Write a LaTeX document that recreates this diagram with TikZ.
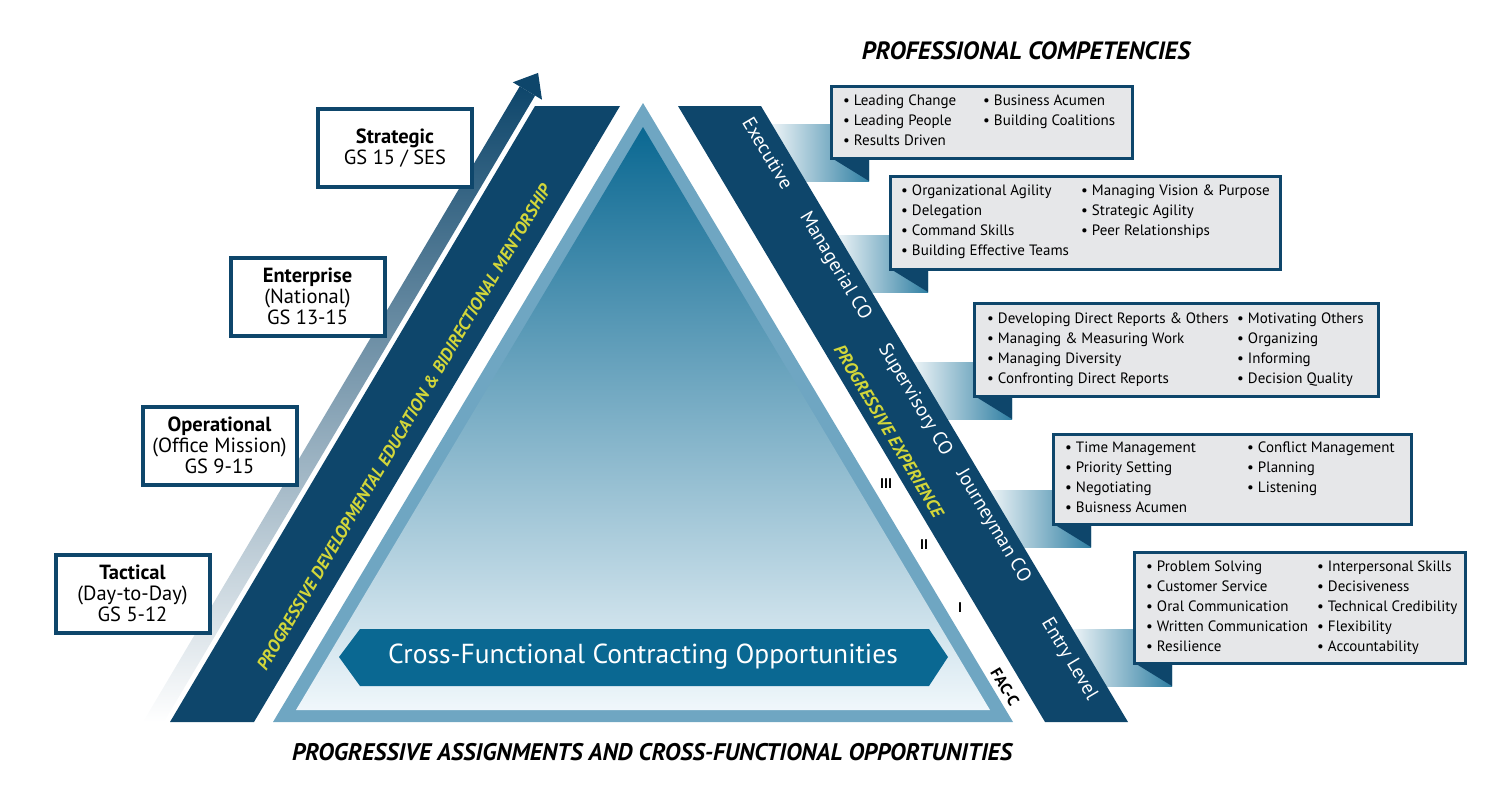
\documentclass[tikz,border=0pt]{standalone}
\usepackage{fontspec}
\setmainfont{PT Sans}
\usetikzlibrary{positioning}

\definecolor{navy}{RGB}{14,70,107}
\definecolor{ringblue}{RGB}{111,166,194}
\definecolor{deepteal}{RGB}{10,104,146}
\definecolor{paleblue}{RGB}{240,247,251}
\definecolor{boxgrey}{RGB}{230,231,233}
\definecolor{mentor}{RGB}{210,214,58}

\tikzset{
  levelbox/.style={draw=navy, line width=4pt, fill=white, align=center,
    minimum width=154pt, minimum height=78pt, inner sep=0pt,
    font=\fontsize{20.5}{21}\selectfont},
  compbox/.style={draw=navy, line width=2.5pt, fill=boxgrey, anchor=north west, inner sep=0pt},
  complist/.style={align=left, inner sep=0pt, font=\fontsize{15}{20}\selectfont},
  bandlabel/.style={text=white, rotate=-59.2, font=\fontsize{19.5}{21}\selectfont},
  yellowlabel/.style={text=mentor, font=\fontsize{17.5}{20}\bfseries\itshape\selectfont},
  roman/.style={font=\fontsize{14}{16}\bfseries\selectfont},
  ribbon/.style={left color=white, right color=deepteal!85},
  fold/.style={fill=navy},
  heading/.style={font=\fontsize{25}{28}\bfseries\itshape\selectfont}
}

\begin{document}
\begin{tikzpicture}[x=1pt, y=-1pt]
    \useasboundingbox (0,0) rectangle (1500,785);

    % Arrow
    \shade[top color=navy, bottom color=white] (143,722) -- (164,722) -- (535.1,95.6) -- (519.7,86.4) -- cycle;
    \fill[navy] (512.8,82.3) -- (538.1,72.9) -- (542.0,99.7) -- cycle;

    % Left band
    \fill[navy] (535,106) -- (620,106) -- (254,722) -- (170,722) -- cycle;

    % Triangle
    \fill[ringblue] (643,103) -- (273,722) -- (1013,722) -- cycle;
    \shade[top color=deepteal, bottom color=paleblue] (643,127) -- (296,710) -- (990,710) -- cycle;

    % Banner
    \fill[deepteal] (339,657) -- (360,629) -- (929,629) -- (948,657) -- (929,686) -- (360,686) -- cycle;
    \node[text=white, font=\fontsize{27.5}{30}\selectfont] (cross) at (643,657) {Cross-Functional Contracting Opportunities};

    % Ribbons
    \shade[ribbon] (762,124) rectangle (869,181);
    \fill[fold] (830,157) -- (869,157) -- (869,181) -- cycle;
    \shade[ribbon] (828,235) rectangle (928,292);
    \fill[fold] (889,268) -- (928,268) -- (928,292) -- cycle;
    \shade[ribbon] (904,362) rectangle (1012,419);
    \fill[fold] (973,395) -- (1012,395) -- (1012,419) -- cycle;
    \shade[ribbon] (980,490) rectangle (1091,547);
    \fill[fold] (1052,523) -- (1091,523) -- (1091,547) -- cycle;
    \shade[ribbon] (1063,629) rectangle (1172,686);
    \fill[fold] (1133,662) -- (1172,662) -- (1172,686) -- cycle;

    % Right band
    \fill[navy] (678,106) -- (761,106) -- (1128,722) -- (1045,722) -- cycle;

    % Band labels
    \node[bandlabel] (execlabel) at (768,153) {Executive};
    \node[bandlabel] (managerial) at (835,266) {Managerial CO};
    \node[bandlabel] (supervisory) at (915,400) {Supervisory CO};
    \node[bandlabel] (journeyman) at (993,526) {Journeyman CO};
    \node[bandlabel] (entry) at (1069,659) {Entry Level};
    \node[yellowlabel, rotate=-59.2] (experience) at (889,431) {PROGRESSIVE EXPERIENCE};
    \node[yellowlabel, rotate=59.4] (mentorship) at (404,427) {PROGRESSIVE DEVELOPMENTAL EDUCATION \& BIDIRECTIONAL MENTORSHIP};

    % Tiers
    \node[roman] (tier3) at (886,484) {III};
    \node[roman] (tier2) at (924,545) {II};
    \node[roman] (tier1) at (960,608) {I};
    \node[roman, font=\fontsize{16}{18}\bfseries\selectfont, rotate=-59.2] (facc) at (1005,687) {FAC-C};

    % Levels
    \node[levelbox] (strategic) at (395,148) {\textbf{Strategic}\\GS 15 / SES};
    \node[levelbox] (enterprise) at (307.5,296.5) {\textbf{Enterprise}\\(National)\\GS 13-15};
    \node[levelbox] (operational) at (219.5,445.5) {\textbf{Operational}\\(Office Mission)\\GS 9-15};
    \node[levelbox] (tactical) at (132.5,593.5) {\textbf{Tactical}\\(Day-to-Day)\\GS 5-12};

    % Competencies
    \node[compbox, minimum width=301pt, minimum height=72pt] (executive) at (830,85) {};
    \node[complist, below right=10pt and 13pt of executive.north west] (exec1) {\textbullet\ Leading Change\\\textbullet\ Leading People\\\textbullet\ Results Driven};
    \node[complist, below right=10pt and 153pt of executive.north west] (exec2) {\textbullet\ Business Acumen\\\textbullet\ Building Coalitions};

    \node[compbox, minimum width=390pt, minimum height=93pt] (manager) at (889,175) {};
    \node[complist, below right=10pt and 12pt of manager.north west] (manager1) {\textbullet\ Organizational Agility\\\textbullet\ Delegation\\\textbullet\ Command Skills\\\textbullet\ Building Effective Teams};
    \node[complist, below right=10pt and 192pt of manager.north west] (manager2) {\textbullet\ Managing Vision \& Purpose\\\textbullet\ Strategic Agility\\\textbullet\ Peer Relationships};

    \node[compbox, minimum width=404pt, minimum height=93pt] (supervisor) at (973,302) {};
    \node[complist, below right=11pt and 14pt of supervisor.north west] (supervisor1) {\textbullet\ Developing Direct Reports \& Others\\\textbullet\ Managing \& Measuring Work\\\textbullet\ Managing Diversity\\\textbullet\ Confronting Direct Reports};
    \node[complist, below right=11pt and 264pt of supervisor.north west] (supervisor2) {\textbullet\ Motivating Others\\\textbullet\ Organizing\\\textbullet\ Informing\\\textbullet\ Decision Quality};

    \node[compbox, minimum width=358pt, minimum height=90pt] (journey) at (1052,433) {};
    \node[complist, below right=9pt and 13pt of journey.north west] (journey1) {\textbullet\ Time Management\\\textbullet\ Priority Setting\\\textbullet\ Negotiating\\\textbullet\ Buisness Acumen};
    \node[complist, below right=9pt and 195pt of journey.north west] (journey2) {\textbullet\ Conflict Management\\\textbullet\ Planning\\\textbullet\ Listening};

    \node[compbox, minimum width=331pt, minimum height=111pt] (entrybox) at (1133,551) {};
    \node[complist, below right=10pt and 13pt of entrybox.north west] (entry1) {\textbullet\ Problem Solving\\\textbullet\ Customer Service\\\textbullet\ Oral Communication\\\textbullet\ Written Communication\\\textbullet\ Resilience};
    \node[complist, below right=10pt and 184pt of entrybox.north west] (entry2) {\textbullet\ Interpersonal Skills\\\textbullet\ Decisiveness\\\textbullet\ Technical Credibility\\\textbullet\ Flexibility\\\textbullet\ Accountability};

    % Headings
    \node[heading] (competencies) at (1026,51) {PROFESSIONAL COMPETENCIES};
    \node[heading, font=\fontsize{24}{27}\bfseries\itshape\selectfont] (assignments) at (652,752) {PROGRESSIVE ASSIGNMENTS AND CROSS-FUNCTIONAL OPPORTUNITIES};

\end{tikzpicture}
\end{document}
